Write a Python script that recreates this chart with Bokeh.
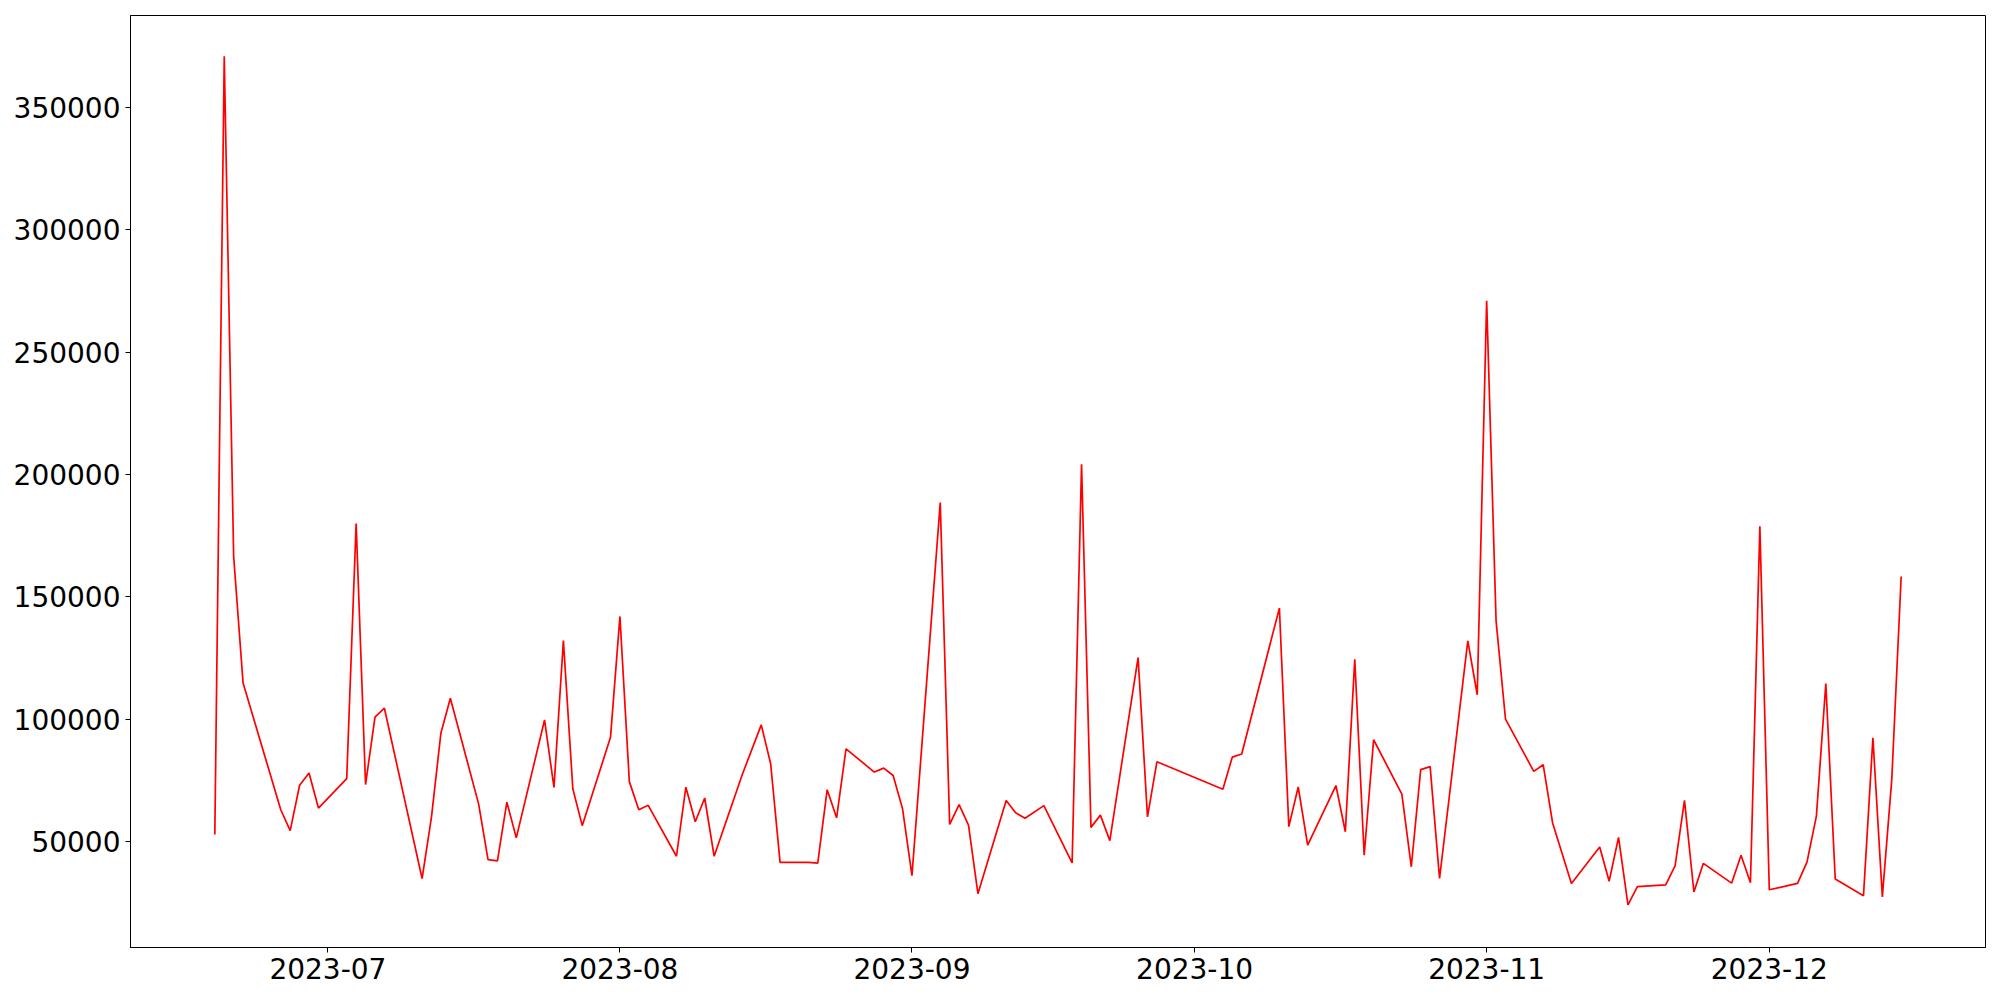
from datetime import datetime
import calendar
from bokeh.plotting import figure
from bokeh.models import Range1d, FixedTicker, DatetimeTickFormatter, BasicTickFormatter, ColumnDataSource
from bokeh.embed import file_html
from bokeh.resources import INLINE

dates = [
    "2023-06-19", "2023-06-20", "2023-06-21", "2023-06-22", "2023-06-26", "2023-06-27", "2023-06-28", "2023-06-29", "2023-06-30",
    "2023-07-03", "2023-07-04", "2023-07-05", "2023-07-06", "2023-07-07", "2023-07-11", "2023-07-12", "2023-07-13", "2023-07-14",
    "2023-07-17", "2023-07-18", "2023-07-19", "2023-07-20", "2023-07-21", "2023-07-24", "2023-07-25", "2023-07-26", "2023-07-27",
    "2023-07-28", "2023-07-31", "2023-08-01", "2023-08-02", "2023-08-03", "2023-08-04", "2023-08-07", "2023-08-08", "2023-08-09",
    "2023-08-10", "2023-08-11", "2023-08-14", "2023-08-16", "2023-08-17", "2023-08-18", "2023-08-21", "2023-08-22", "2023-08-23",
    "2023-08-24", "2023-08-25", "2023-08-28", "2023-08-29", "2023-08-30", "2023-08-31", "2023-09-01", "2023-09-04", "2023-09-05",
    "2023-09-06", "2023-09-07", "2023-09-08", "2023-09-11", "2023-09-12", "2023-09-13", "2023-09-15", "2023-09-18", "2023-09-19",
    "2023-09-20", "2023-09-21", "2023-09-22", "2023-09-25", "2023-09-26", "2023-09-27", "2023-10-04", "2023-10-05", "2023-10-06",
    "2023-10-10", "2023-10-11", "2023-10-12", "2023-10-13", "2023-10-16", "2023-10-17", "2023-10-18", "2023-10-19", "2023-10-20",
    "2023-10-23", "2023-10-24", "2023-10-25", "2023-10-26", "2023-10-27", "2023-10-30", "2023-10-31", "2023-11-01", "2023-11-02",
    "2023-11-03", "2023-11-06", "2023-11-07", "2023-11-08", "2023-11-10", "2023-11-13", "2023-11-14", "2023-11-15", "2023-11-16",
    "2023-11-17", "2023-11-20", "2023-11-21", "2023-11-22", "2023-11-23", "2023-11-24", "2023-11-27", "2023-11-28", "2023-11-29",
    "2023-11-30", "2023-12-01", "2023-12-04", "2023-12-05", "2023-12-06", "2023-12-07", "2023-12-08", "2023-12-11", "2023-12-12",
    "2023-12-13", "2023-12-14", "2023-12-15",
]
values = [
    52900, 370900, 166500, 114800, 63000, 54500, 73000, 78000, 63700,
    75700, 180000, 73300, 100900, 104500, 34900, 60100, 94400, 108600,
    65400, 42600, 42100, 66100, 51500, 99700, 72100, 132100, 71600,
    56500, 92600, 142000, 74500, 63000, 64800, 44000, 72200, 58100,
    67800, 44000, 77500, 97700, 81800, 41500, 41500, 41200, 71200,
    59700, 87900, 78400, 80000, 77000, 63400, 36100, 188500, 57000,
    65100, 56700, 28700, 66800, 61800, 59500, 64700, 41300, 204200,
    55800, 60800, 50400, 125200, 60100, 82600, 71400, 84500, 85800,
    145400, 56100, 72300, 48500, 72900, 54000, 124500, 44400, 91600,
    69400, 39700, 79400, 80600, 34900, 132000, 110000, 271000, 140200,
    100000, 78700, 81400, 57600, 32900, 47800, 33800, 51700, 24100,
    31600, 32300, 40100, 66800, 29400, 41100, 33000, 44400, 33200,
    178800, 30300, 32900, 41600, 60400, 114600, 34700, 27900, 92400,
    27400, 75300, 158300,
]
month_ticks = ["2023-07-01", "2023-08-01", "2023-09-01", "2023-10-01", "2023-11-01", "2023-12-01"]
y_ticks = [50000, 100000, 150000, 200000, 250000, 300000, 350000]

x = [datetime.strptime(d, "%Y-%m-%d") for d in dates]
src = ColumnDataSource(dict(x=x, y=values))

span = x[-1] - x[0]
pad = span * 0.05
x_range = Range1d(start=x[0] - pad, end=x[-1] + pad)
y_range = Range1d(start=6710, end=387570)

p = figure(width=1992, height=992, x_axis_type="datetime", x_range=x_range, y_range=y_range,
           output_backend="svg", toolbar_location=None,
           min_border_left=130, min_border_right=7, min_border_top=15, min_border_bottom=45)

p.line("x", "y", source=src, line_color="red", line_width=1.7)

tick_ms = [calendar.timegm(datetime.strptime(d, "%Y-%m-%d").timetuple()) * 1000 for d in month_ticks]
p.xaxis.ticker = FixedTicker(ticks=tick_ms)
fmt = "%Y-%m"
p.xaxis.formatter = DatetimeTickFormatter(milliseconds=fmt, seconds=fmt, minsec=fmt, minutes=fmt, hourmin=fmt,
                                          hours=fmt, days=fmt, months=fmt, years=fmt)
p.yaxis.ticker = FixedTicker(ticks=y_ticks)
p.yaxis.formatter = BasicTickFormatter(use_scientific=False)

for ax in (p.xaxis, p.yaxis):
    ax.major_label_text_font = "DejaVu Sans"
    ax.major_label_text_font_size = "28px"
    ax.major_label_text_color = "black"
    ax.axis_line_color = "black"
    ax.axis_line_width = 1
    ax.major_tick_line_color = "black"
    ax.major_tick_out = 5
    ax.major_tick_in = 0
    ax.minor_tick_out = 0
    ax.minor_tick_in = 0
    ax.major_label_standoff = 5

p.xgrid.visible = False
p.ygrid.visible = False
p.outline_line_color = "black"
p.outline_line_width = 1
p.outline_line_alpha = 1
p.background_fill_color = "white"
p.border_fill_color = "white"

open("out.html", "w").write(file_html(p, INLINE))
